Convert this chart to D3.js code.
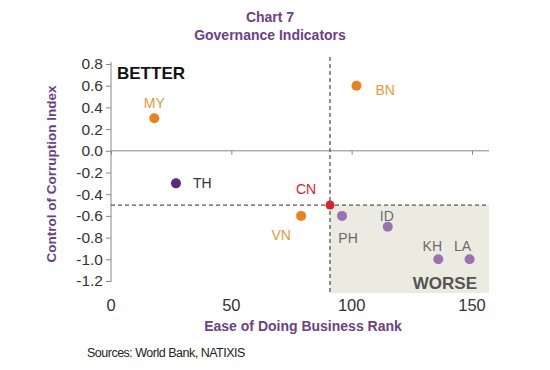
<!DOCTYPE html>
<html>
<head>
<meta charset="utf-8">
<script src="https://cdn.jsdelivr.net/npm/d3@7"></script>
<style>
body { margin: 0; background: #fff; }
text { font-family: "Liberation Sans", Arial, sans-serif; }
</style>
</head>
<body>
<svg width="550" height="370"></svg>
<script>
// country points
const codes   = ['MY', 'BN', 'TH', 'CN', 'VN', 'PH', 'ID', 'KH', 'LA'];
const rank    = [18, 102, 27, 91, 79, 96, 115, 136, 149];
const corrupt = [0.3, 0.6, -0.3, -0.5, -0.6, -0.6, -0.7, -1.0, -1.0];
const group   = ['o', 'o', 'd', 'c', 'o', 'p', 'p', 'p', 'p'];

const yTicks = [0.8, 0.6, 0.4, 0.2, 0.0, -0.2, -0.4, -0.6, -0.8, -1.0, -1.2];
const xTicks = [0, 50, 100, 150];

const pointColor = { o: '#e8821e', d: '#5a2a82', c: '#e0202a', p: '#9a72b2' };
const labelColor = { o: '#e39a3a', d: '#333333', c: '#e0202a', p: '#6a6a6a' };
// label offsets per country
const lab = {
  MY: [0, -10, 'middle'], BN: [19, 9, 'start'], TH: [17, 5, 'start'],
  CN: [-24, -11, 'middle'], VN: [-20, 24, 'middle'], PH: [6, 27, 'middle'],
  ID: [-1, -6, 'middle'], KH: [-6, -8, 'middle'], LA: [-7, -8, 'middle']
};

const svg = d3.select('svg');
const x = d3.scaleLinear().domain([0, 150]).range([111, 472]);
const y = d3.scaleLinear().domain([-1.2, 0.8]).range([281, 64]);
const right = 489, bottom = 293;

// shaded "worse" quadrant
svg.append('rect')
  .attr('x', x(91)).attr('y', y(-0.5))
  .attr('width', right - x(91)).attr('height', bottom - y(-0.5))
  .attr('fill', '#ecebe1');

// y axis
const yAxis = d3.axisLeft(y).tickValues(yTicks).tickSize(5).tickSizeOuter(0);
const gy = svg.append('g').attr('transform', 'translate(111,0)').call(yAxis);
gy.select('.domain').attr('stroke', '#888').attr('d', `M0,${y(0.8) - 2}V${y(-1.2) + 1}`);
gy.selectAll('.tick line').attr('stroke', '#888');
gy.selectAll('.tick text').attr('font-size', 15.5).attr('fill', '#333').attr('x', -8)
  .text(d => d3.format('.1f')(d).replace('−', '-'));

// x axis line sits at y = 0
const xAxis = d3.axisBottom(x).tickValues(xTicks).tickSize(4).tickSizeOuter(0).tickFormat('');
const gx = svg.append('g').attr('transform', `translate(0,${y(0)})`).call(xAxis);
gx.select('.domain').attr('stroke', '#888').attr('d', `M${x(0)},0H${right}`);
gx.selectAll('.tick line').attr('stroke', '#888');

svg.append('g').selectAll('text').data(xTicks).join('text')
  .attr('x', d => x(d)).attr('y', 311)
  .attr('text-anchor', 'middle').attr('font-size', 16.5).attr('fill', '#333')
  .text(d => d);

// dashed reference lines through CN
svg.append('line')
  .attr('x1', x(0)).attr('x2', right).attr('y1', y(-0.5)).attr('y2', y(-0.5))
  .attr('stroke', '#555').attr('stroke-dasharray', '4,3').attr('stroke-width', 1.3);
svg.append('line')
  .attr('x1', x(91)).attr('x2', x(91)).attr('y1', 57).attr('y2', bottom)
  .attr('stroke', '#555').attr('stroke-dasharray', '4,3').attr('stroke-width', 1.3);

// points
const pts = codes.map((c, i) => ({ c, x: rank[i], y: corrupt[i], g: group[i] }));
svg.append('g').selectAll('circle').data(pts).join('circle')
  .attr('cx', d => x(d.x)).attr('cy', d => y(d.y))
  .attr('r', d => d.g === 'c' ? 4.5 : 5)
  .attr('fill', d => pointColor[d.g]);

svg.append('g').selectAll('text').data(pts).join('text')
  .attr('x', d => x(d.x) + lab[d.c][0]).attr('y', d => y(d.y) + lab[d.c][1])
  .attr('text-anchor', d => lab[d.c][2])
  .attr('font-size', 14).attr('fill', d => labelColor[d.g])
  .text(d => d.c);

// quadrant labels
svg.append('text').attr('x', 117).attr('y', 79)
  .attr('font-size', 17).attr('font-weight', 'bold').attr('fill', '#111').text('BETTER');
svg.append('text').attr('x', 477).attr('y', 289).attr('text-anchor', 'end')
  .attr('font-size', 17).attr('font-weight', 'bold').attr('fill', '#555').text('WORSE');

// titles
const purple = '#6b3f8a';
svg.append('text').attr('x', 270).attr('y', 22).attr('text-anchor', 'middle')
  .attr('font-size', 14).attr('font-weight', 'bold').attr('fill', purple).text('Chart 7');
svg.append('text').attr('x', 270).attr('y', 40).attr('text-anchor', 'middle')
  .attr('font-size', 14).attr('font-weight', 'bold').attr('fill', purple).text('Governance Indicators');

svg.append('text').attr('transform', `translate(56,${(80 + 268) / 2}) rotate(-90)`)
  .attr('text-anchor', 'middle').attr('font-size', 13.5).attr('font-weight', 'bold')
  .attr('fill', purple).text('Control of Corruption  Index');

svg.append('text').attr('x', 303).attr('y', 331).attr('text-anchor', 'middle')
  .attr('font-size', 14).attr('font-weight', 'bold').attr('fill', purple)
  .text('Ease of Doing Business  Rank');

svg.append('text').attr('x', 87).attr('y', 357)
  .attr('font-size', 12.5).attr('fill', '#222').attr('letter-spacing', -0.5)
  .text('Sources: World Bank, NATIXIS');
</script>
</body>
</html>
